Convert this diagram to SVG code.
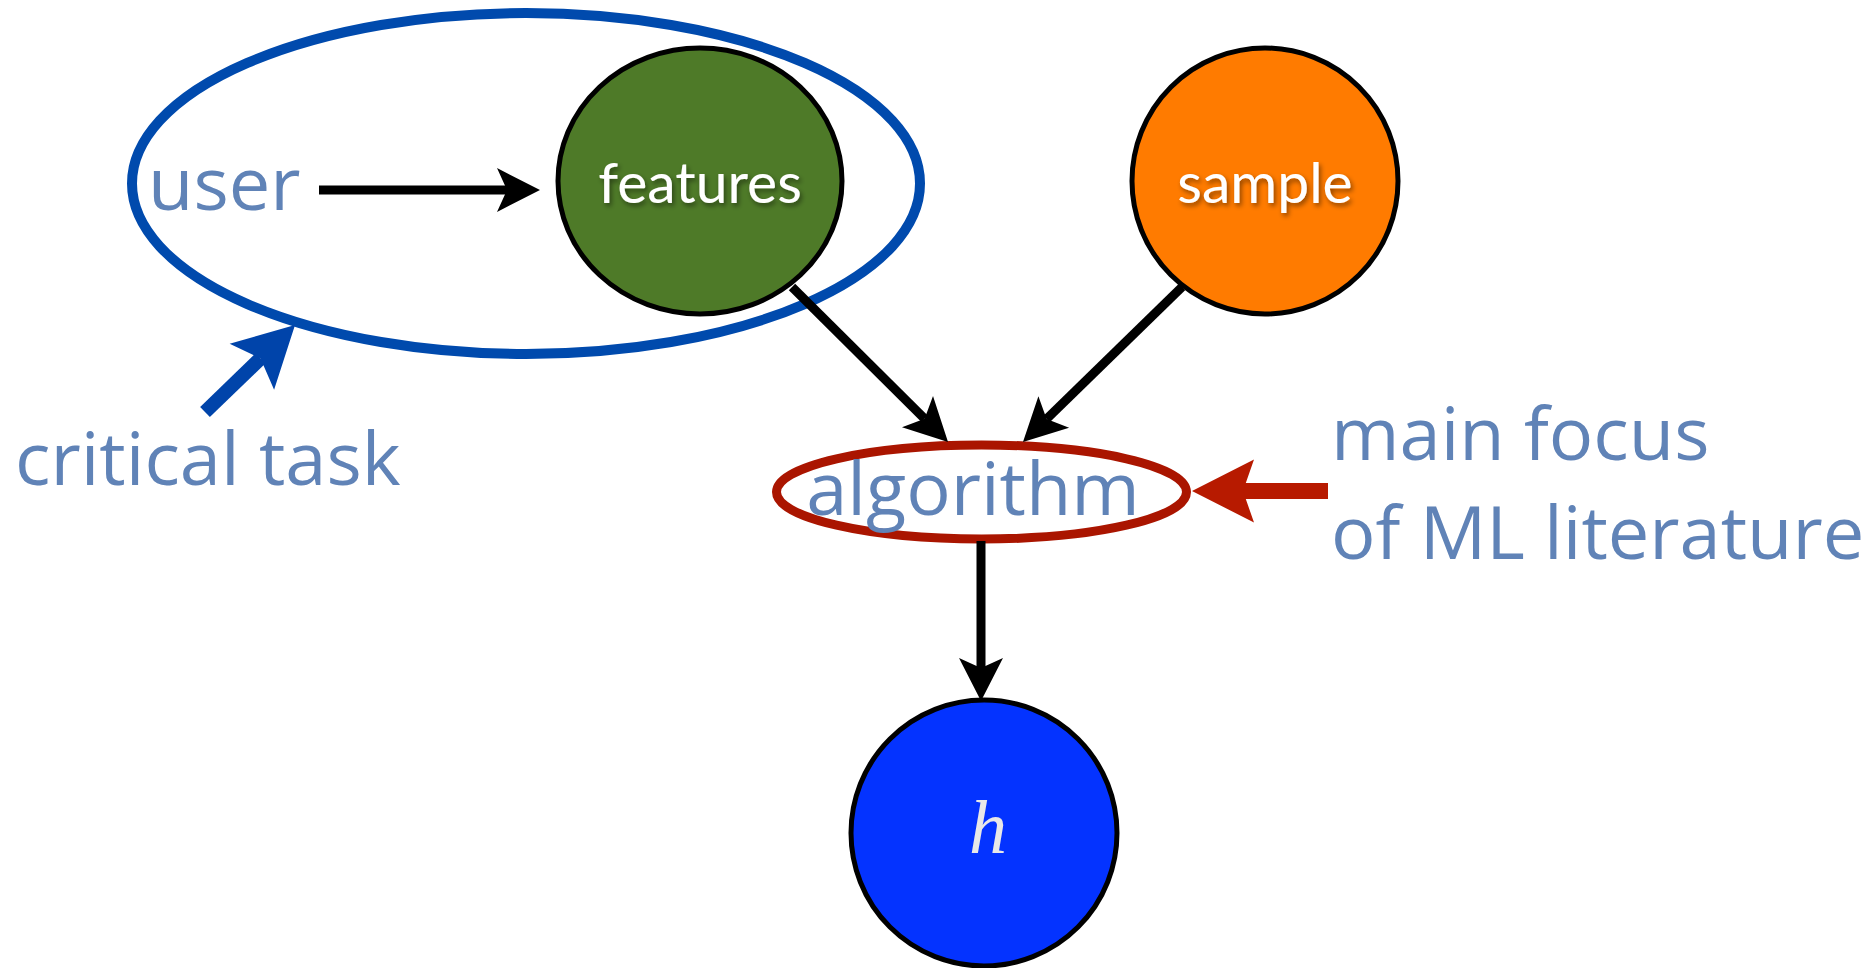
<svg xmlns="http://www.w3.org/2000/svg" width="1872" height="968" viewBox="0 0 1872 968">
  <style>
    .node { stroke: #000; stroke-width: 5; }
    .inlabel { font-family: Lato, "Open Sans", sans-serif; font-size: 57px; fill: #fff; text-anchor: middle; filter: url(#shadow); }
    .label { font-family: "Open Sans", "Noto Sans", sans-serif; font-size: 74px; fill: #6083B7; }
    .conn { stroke: #000; stroke-width: 9; fill: none; }
  </style>
  <defs>
    <filter id="shadow" x="-20%" y="-40%" width="140%" height="180%">
      <feDropShadow dx="2" dy="3" stdDeviation="2.5" flood-color="#000" flood-opacity="0.45"/>
    </filter>
    <marker id="ah" markerUnits="userSpaceOnUse" viewBox="-45 -25 50 50" markerWidth="50" markerHeight="50" refX="-33" refY="0" orient="auto">
      <path d="M0,0 L-43,-22 L-33,0 L-43,22 Z" fill="#000"/>
    </marker>
    <marker id="ahRed" markerUnits="userSpaceOnUse" viewBox="-65 -35 70 70" markerWidth="70" markerHeight="70" refX="-51" refY="0" orient="auto">
      <path d="M0,0 L-62,-31.5 L-51,0 L-62,31.5 Z" fill="#B71A00"/>
    </marker>
    <marker id="ahBlue" markerUnits="userSpaceOnUse" viewBox="-65 -35 70 70" markerWidth="70" markerHeight="70" refX="-48" refY="0" orient="auto">
      <path d="M0,0 L-60,-32 L-48,0 L-60,32 Z" fill="#0044AA"/>
    </marker>
  </defs>
  <rect width="1872" height="968" fill="#fff"/>

  <g id="features">
    <ellipse class="node" cx="700" cy="181" rx="142" ry="133" fill="#4E7A28"/>
    <text class="inlabel" x="700" y="203">features</text>
  </g>
  <g id="sample">
    <circle class="node" cx="1265" cy="181" r="133" fill="#FF7B00"/>
    <text class="inlabel" x="1265" y="203">sample</text>
  </g>
  <g id="h">
    <circle class="node" cx="984" cy="833" r="133" fill="#0433FF"/>
    <text x="988" y="853" font-family="'Liberation Serif', serif" font-style="italic" font-size="76" fill="#E8E8E8" text-anchor="middle">h</text>
  </g>
  <g id="algorithm">
    <ellipse cx="981.5" cy="492" rx="205" ry="47" fill="#fff" stroke="#AA1500" stroke-width="9"/>
    <text class="label" x="973" y="515" text-anchor="middle">algorithm</text>
  </g>
  <g id="user-task">
    <ellipse cx="526" cy="183.5" rx="394" ry="170.5" fill="none" stroke="#004AAD" stroke-width="10"/>
    <text class="label" x="148" y="210">user</text>
  </g>

  <g id="connectors">
    <path class="conn" d="M319,190 L507,190" marker-end="url(#ah)"/>
    <path class="conn" d="M792,287 L924.6,418.7" marker-end="url(#ah)"/>
    <path class="conn" d="M1182,287 L1046.6,419" marker-end="url(#ah)"/>
    <path class="conn" d="M981,541 L981,668" marker-end="url(#ah)"/>
    <path d="M1328,491 L1243,491" stroke="#B71A00" stroke-width="16" fill="none" marker-end="url(#ahRed)"/>
    <path d="M205,412 L260.5,358.4" stroke="#0044AA" stroke-width="14" fill="none" marker-end="url(#ahBlue)"/>
  </g>

  <g id="annotations">
    <text class="label" x="15" y="485">critical task</text>
    <text class="label" x="1331" y="460">main focus</text>
    <text class="label" x="1331" y="559">of ML literature</text>
  </g>
</svg>
